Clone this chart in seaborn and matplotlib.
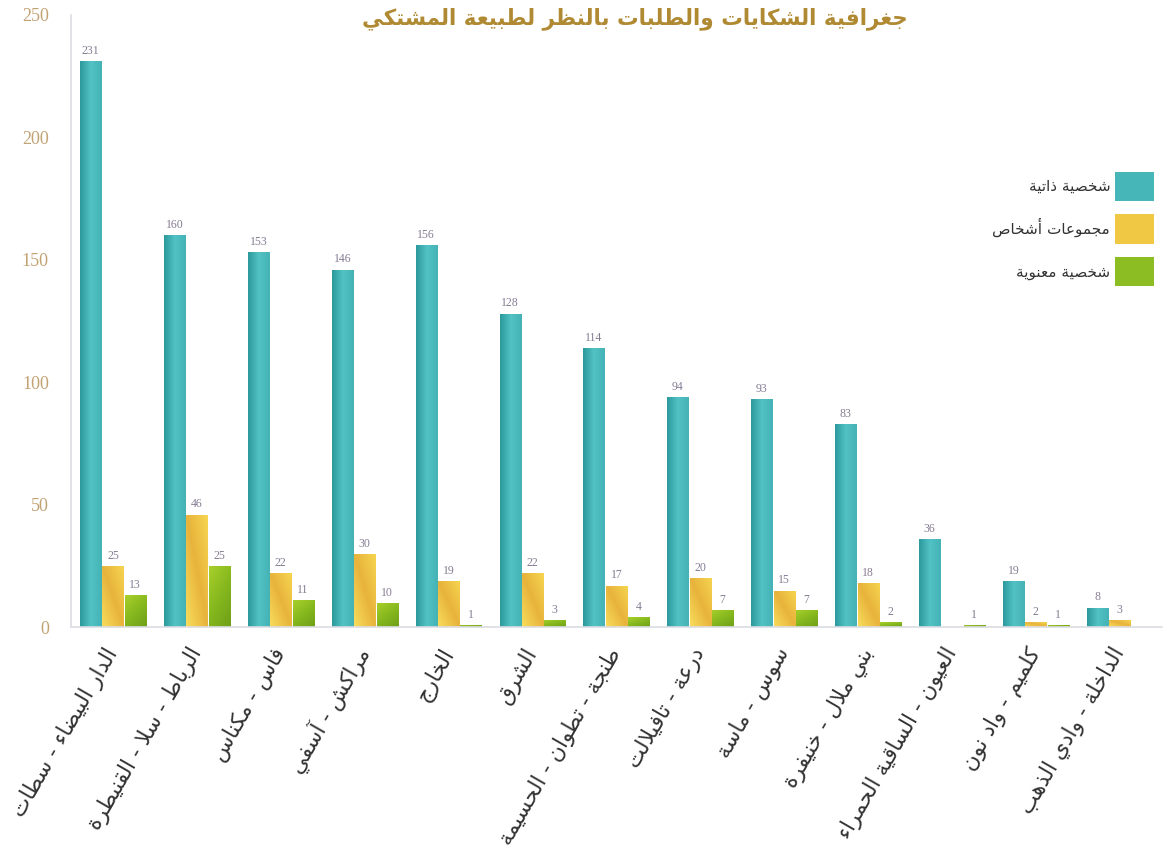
import numpy as np
import pandas as pd
import matplotlib
matplotlib.use("Agg")
import matplotlib.pyplot as plt
from matplotlib.patches import Patch
from matplotlib.colors import to_rgb
import seaborn as sns

# ---------------------------------------------------------------------------
# Data
# ---------------------------------------------------------------------------
regions = [
    "الدار البيضاء - سطات",
    "الرباط - سلا - القنيطرة",
    "فاس - مكناس",
    "مراكش - آسفي",
    "الخارج",
    "الشرق",
    "طنجة - تطوان - الحسيمة",
    "درعة - تافيلالت",
    "سوس - ماسة",
    "بني ملال - خنيفرة",
    "العيون - الساقية الحمراء",
    "كلميم - واد نون",
    "الداخلة - وادي الذهب",
]
natural_person = [231, 160, 153, 146, 156, 128, 114, 94, 93, 83, 36, 19, 8]
groups_of_people = [25, 46, 22, 30, 19, 22, 17, 20, 15, 18, 0, 2, 3]
legal_person = [13, 25, 11, 10, 1, 3, 4, 7, 7, 2, 1, 1, 0]

series_names = ["شخصية ذاتية", "مجموعات أشخاص", "شخصية معنوية"]
title_text = "جغرافية الشكايات والطلبات بالنظر لطبيعة المشتكي"
y_ticks = [0, 50, 100, 150, 200, 250]

colors = ["#46b6b8", "#f0c844", "#8cbd22"]
# shading stops used to give each bar family its glossy look
shades = [
    ["#2c9a9c", "#52c2c4", "#45b3b5"],
    ["#f8de5c", "#e8b33c", "#f6d650"],
    ["#a9d02c", "#86b81e", "#6e9f18"],
]

# ---------------------------------------------------------------------------
# Minimal Arabic shaping (contextual forms + right-to-left order)
# ---------------------------------------------------------------------------
_FORMS = {
    "ء": (0xFE80, 1), "آ": (0xFE81, 2), "أ": (0xFE83, 2), "ؤ": (0xFE85, 2),
    "إ": (0xFE87, 2), "ئ": (0xFE89, 4), "ا": (0xFE8D, 2), "ب": (0xFE8F, 4),
    "ة": (0xFE93, 2), "ت": (0xFE95, 4), "ث": (0xFE99, 4), "ج": (0xFE9D, 4),
    "ح": (0xFEA1, 4), "خ": (0xFEA5, 4), "د": (0xFEA9, 2), "ذ": (0xFEAB, 2),
    "ر": (0xFEAD, 2), "ز": (0xFEAF, 2), "س": (0xFEB1, 4), "ش": (0xFEB5, 4),
    "ص": (0xFEB9, 4), "ض": (0xFEBD, 4), "ط": (0xFEC1, 4), "ظ": (0xFEC5, 4),
    "ع": (0xFEC9, 4), "غ": (0xFECD, 4), "ف": (0xFED1, 4), "ق": (0xFED5, 4),
    "ك": (0xFED9, 4), "ل": (0xFEDD, 4), "م": (0xFEE1, 4), "ن": (0xFEE5, 4),
    "ه": (0xFEE9, 4), "و": (0xFEED, 2), "ى": (0xFEEF, 2), "ي": (0xFEF1, 4),
}
_LAM_ALEF = {"ا": 0xFEFB, "آ": 0xFEF5, "أ": 0xFEF7, "إ": 0xFEF9}


def shape(text):
    units = []
    i = 0
    while i < len(text):
        c = text[i]
        if c == "ل" and i + 1 < len(text) and text[i + 1] in _LAM_ALEF:
            units.append((c, _LAM_ALEF[text[i + 1]], 2))
            i += 2
            continue
        base, n = _FORMS.get(c, (None, 0))
        units.append((c, base, n))
        i += 1
    out = []
    for k, (c, base, n) in enumerate(units):
        if base is None:
            out.append(c)
            continue
        prev_joins = k > 0 and units[k - 1][2] == 4
        next_joins = n == 4 and k + 1 < len(units) and units[k + 1][2] >= 2
        if n == 1:
            form = 0
        elif n == 2:
            form = 1 if prev_joins else 0
        else:
            form = {(False, False): 0, (True, False): 1,
                    (False, True): 2, (True, True): 3}[(prev_joins, next_joins)]
        out.append(chr(base + form))
    return "".join(reversed(out))


def shade_image(stops, mode):
    """Small RGB image interpolating three colour stops across a bar."""
    n = 64
    xs, ys = np.meshgrid(np.linspace(0, 1, n), np.linspace(0, 1, n))
    if mode == "h":
        t = xs
    elif mode == "d":
        t = (xs + ys) / 2
    else:
        t = (xs * 0.4 + (1 - ys) * 0.6)
    c = np.array([to_rgb(s) for s in stops])
    img = np.empty((n, n, 3))
    for ch in range(3):
        img[..., ch] = np.interp(t, [0, 0.5, 1], c[:, ch])
    return img


# ---------------------------------------------------------------------------
# Figure
# ---------------------------------------------------------------------------
sns.set_theme(style="white")
plt.rcParams["font.family"] = ["DejaVu Sans"]

shaped_regions = [shape(r) for r in regions]
shaped_series = [shape(s) for s in series_names]

df = pd.DataFrame({
    "region": np.repeat(shaped_regions, 3),
    "type": shaped_series * len(regions),
    "value": np.ravel(np.column_stack([natural_person, groups_of_people, legal_person])),
})

fig = plt.figure(figsize=(11.64, 8.64), dpi=100)
ax = fig.add_axes([0.061, 0.274, 0.937, 0.709])

sns.barplot(
    data=df, x="region", y="value", hue="type",
    order=shaped_regions, hue_order=shaped_series,
    palette=colors, width=0.8, gap=0.06, saturation=1,
    legend=False, ax=ax,
)

# glossy fill clipped to each bar
for cont, stops, mode in zip(ax.containers, shades, ["h", "d", "v"]):
    img = shade_image(stops, mode)
    for bar in cont:
        h = bar.get_height()
        if h <= 0:
            continue
        x0, w = bar.get_x(), bar.get_width()
        im = ax.imshow(img, extent=(x0, x0 + w, 0, h), origin="lower",
                       aspect="auto", interpolation="bilinear", zorder=bar.get_zorder() + 0.1)
        im.set_clip_path(bar)

ax.set_ylim(0, 250)
ax.set_xlim(-0.5, len(regions) - 0.5)
ax.set_aspect("auto")
ax.set_yticks(y_ticks)
ax.set_xlabel("")
ax.set_ylabel("")

# value labels above the bars
for cont, vals in zip(ax.containers, [natural_person, groups_of_people, legal_person]):
    ax.bar_label(cont, labels=[str(v) if v > 0 else "" for v in vals],
                 padding=3, fontsize=8.5, color="#857c92", family="Liberation Serif")

# axes styling
for side in ["top", "right"]:
    ax.spines[side].set_visible(False)
for side in ["left", "bottom"]:
    ax.spines[side].set_color("#dcdce4")
    ax.spines[side].set_linewidth(1.2)

ax.tick_params(axis="y", length=0, pad=16, labelsize=13, labelcolor="#c2a273")
for lbl in ax.get_yticklabels():
    lbl.set_family("Liberation Serif")

ax.set_xticks(np.arange(-0.5, len(regions), 1.0), minor=True)
ax.tick_params(axis="x", which="minor", direction="in", length=22, color="#e4e0ec", width=1.2)
ax.tick_params(axis="x", which="major", length=0, pad=16, labelsize=15.5, labelcolor="#333333")
for lbl in ax.get_xticklabels():
    lbl.set_rotation(60)
    lbl.set_ha("right")
    lbl.set_va("center")
    lbl.set_rotation_mode("anchor")

# legend with the swatch on the right-hand side
handles = [Patch(facecolor=c, edgecolor="none") for c in colors]
ax.legend(handles, shaped_series, loc="upper right", bbox_to_anchor=(1.006, 0.766),
          markerfirst=False, frameon=False, fontsize=11, labelcolor="#333333",
          handlelength=2.6, handleheight=2.6, labelspacing=0.85, handletextpad=0.3)

fig.text(0.545, 0.979, shape(title_text), ha="center", va="center",
         fontsize=15.5, fontweight="bold", color="#b08a33")

fig.savefig("out.png", dpi=100, facecolor="white")
